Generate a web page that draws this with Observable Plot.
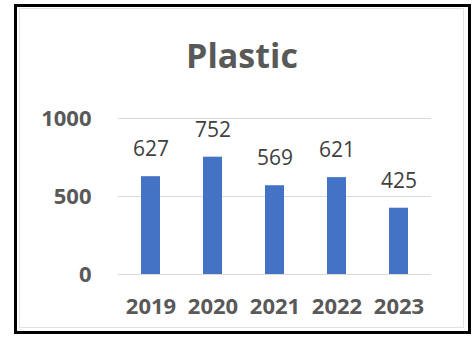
<!DOCTYPE html>
<html>
<head>
<meta charset="utf-8">
<script src="https://cdn.jsdelivr.net/npm/d3@7"></script>
<script src="https://cdn.jsdelivr.net/npm/@observablehq/plot@0.6"></script>
<style>
  html, body { margin: 0; padding: 0; background: #fff; }
  #wrap { position: relative; width: 476px; height: 345px; overflow: hidden; font-family: "Open Sans", sans-serif; }
  #frame { position: absolute; left: 14px; top: 4px; width: 451px; height: 324px; border: 3px solid #000; }
  #inner { position: absolute; left: 19px; top: 8px; width: 443px; height: 318px; border: 1px solid #e3e3e3; }
  #title { position: absolute; left: 0; width: 484px; top: 38px; text-align: center; font-size: 34px; font-weight: bold; color: #595959; line-height: 1; }
  #chart { position: absolute; left: 0; top: 0; }
</style>
</head>
<body>
<div id="wrap">
  <div id="frame"></div>
  <div id="inner"></div>
  <div id="chart"></div>
  <div id="title">Plastic</div>
</div>
<script>
const years = ["2019", "2020", "2021", "2022", "2023"];
const values = [627, 752, 569, 621, 425];
const yTicks = [0, 500, 1000];

const data = years.map((year, i) => ({year, value: values[i]}));

const chart = Plot.plot({
  width: 476,
  height: 345,
  marginLeft: 118,
  marginRight: 45,
  marginTop: 118,
  marginBottom: 71,
  style: {fontFamily: "'Open Sans', sans-serif", background: "transparent", overflow: "visible"},
  x: {domain: years, paddingInner: 0.69, paddingOuter: 0.345, label: null},
  y: {domain: [0, 1000], label: null},
  marks: [
    Plot.ruleY(yTicks, {stroke: "#d9d9d9", strokeWidth: 1.2}),
    Plot.barY(data, {x: "year", y: "value", fill: "#4472C4"}),
    Plot.text(data, {x: "year", y: "value", text: d => String(d.value), dy: -27, lineAnchor: "middle", fontSize: 21, fill: "#404040"}),
    Plot.axisY(yTicks, {tickSize: 0, tickPadding: 27, tickFormat: d => String(d), fontSize: 22, fontWeight: "bold", fill: "#595959", label: null}),
    Plot.axisX({tickSize: 0, tickPadding: 24, fontSize: 22, fontWeight: "bold", fill: "#595959", label: null})
  ]
});
document.getElementById("chart").appendChild(chart);
</script>
</body>
</html>
